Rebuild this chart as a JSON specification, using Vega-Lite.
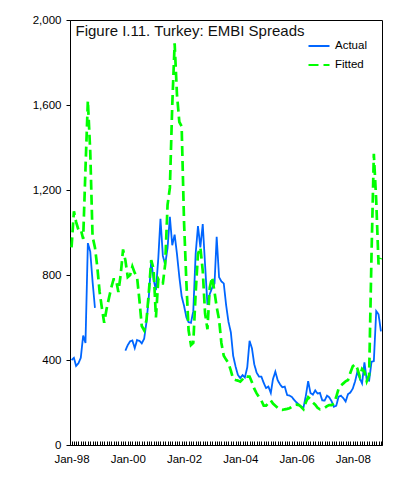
{
  "$schema": "https://vega.github.io/schema/vega-lite/v6.json",
  "width": 312,
  "height": 425,
  "autosize": "none",
  "padding": {"left": 70, "top": 20, "right": 23, "bottom": 32},
  "background": "white",
  "config": {
    "font": "Liberation Sans",
    "view": {"stroke": "black", "strokeWidth": 1}
  },
  "title": {
    "text": "Figure I.11. Turkey: EMBI Spreads",
    "anchor": "start",
    "frame": "group",
    "offset": -25,
    "dx": 5.5,
    "fontSize": 15,
    "fontWeight": "normal",
    "color": "#111111",
    "font": "Liberation Sans"
  },
  "data": {"values": [
    {"d":"1998-01-01","Actual":400,"Fitted":930},
    {"d":"1998-02-01","Actual":410,"Fitted":1100},
    {"d":"1998-03-01","Actual":372,"Fitted":1050},
    {"d":"1998-04-01","Actual":385,"Fitted":1012},
    {"d":"1998-05-01","Actual":410,"Fitted":1015},
    {"d":"1998-06-01","Actual":515,"Fitted":970},
    {"d":"1998-07-01","Actual":480,"Fitted":1300},
    {"d":"1998-08-01","Actual":950,"Fitted":1620},
    {"d":"1998-09-01","Actual":910,"Fitted":1380},
    {"d":"1998-10-01","Actual":770,"Fitted":980},
    {"d":"1998-11-01","Actual":645,"Fitted":930},
    {"d":"1998-12-01","Actual":null,"Fitted":840},
    {"d":"1999-01-01","Actual":null,"Fitted":720},
    {"d":"1999-02-01","Actual":null,"Fitted":640},
    {"d":"1999-03-01","Actual":null,"Fitted":575},
    {"d":"1999-04-01","Actual":null,"Fitted":640},
    {"d":"1999-05-01","Actual":null,"Fitted":690},
    {"d":"1999-06-01","Actual":null,"Fitted":740},
    {"d":"1999-07-01","Actual":null,"Fitted":780},
    {"d":"1999-08-01","Actual":null,"Fitted":780},
    {"d":"1999-09-01","Actual":null,"Fitted":720},
    {"d":"1999-10-01","Actual":null,"Fitted":800},
    {"d":"1999-11-01","Actual":null,"Fitted":920},
    {"d":"1999-12-01","Actual":444,"Fitted":870},
    {"d":"2000-01-01","Actual":470,"Fitted":790},
    {"d":"2000-02-01","Actual":488,"Fitted":800},
    {"d":"2000-03-01","Actual":492,"Fitted":840},
    {"d":"2000-04-01","Actual":456,"Fitted":810},
    {"d":"2000-05-01","Actual":494,"Fitted":790},
    {"d":"2000-06-01","Actual":490,"Fitted":680},
    {"d":"2000-07-01","Actual":478,"Fitted":560},
    {"d":"2000-08-01","Actual":500,"Fitted":540},
    {"d":"2000-09-01","Actual":580,"Fitted":590},
    {"d":"2000-10-01","Actual":700,"Fitted":720},
    {"d":"2000-11-01","Actual":866,"Fitted":870},
    {"d":"2000-12-01","Actual":780,"Fitted":830},
    {"d":"2001-01-01","Actual":729,"Fitted":600},
    {"d":"2001-02-01","Actual":880,"Fitted":780},
    {"d":"2001-03-01","Actual":1065,"Fitted":760},
    {"d":"2001-04-01","Actual":890,"Fitted":760},
    {"d":"2001-05-01","Actual":850,"Fitted":850},
    {"d":"2001-06-01","Actual":927,"Fitted":1130},
    {"d":"2001-07-01","Actual":1074,"Fitted":1210},
    {"d":"2001-08-01","Actual":940,"Fitted":1600},
    {"d":"2001-09-01","Actual":990,"Fitted":1890},
    {"d":"2001-10-01","Actual":900,"Fitted":1650},
    {"d":"2001-11-01","Actual":790,"Fitted":1520},
    {"d":"2001-12-01","Actual":700,"Fitted":1500},
    {"d":"2002-01-01","Actual":655,"Fitted":1050},
    {"d":"2002-02-01","Actual":600,"Fitted":760},
    {"d":"2002-03-01","Actual":578,"Fitted":540},
    {"d":"2002-04-01","Actual":575,"Fitted":470},
    {"d":"2002-05-01","Actual":630,"Fitted":480},
    {"d":"2002-06-01","Actual":900,"Fitted":715},
    {"d":"2002-07-01","Actual":1030,"Fitted":900},
    {"d":"2002-08-01","Actual":930,"Fitted":930},
    {"d":"2002-09-01","Actual":1040,"Fitted":820},
    {"d":"2002-10-01","Actual":850,"Fitted":620},
    {"d":"2002-11-01","Actual":660,"Fitted":545},
    {"d":"2002-12-01","Actual":710,"Fitted":740},
    {"d":"2003-01-01","Actual":740,"Fitted":790},
    {"d":"2003-02-01","Actual":760,"Fitted":720},
    {"d":"2003-03-01","Actual":980,"Fitted":650},
    {"d":"2003-04-01","Actual":790,"Fitted":590},
    {"d":"2003-05-01","Actual":770,"Fitted":480},
    {"d":"2003-06-01","Actual":760,"Fitted":420},
    {"d":"2003-07-01","Actual":660,"Fitted":402},
    {"d":"2003-08-01","Actual":580,"Fitted":385},
    {"d":"2003-09-01","Actual":530,"Fitted":350},
    {"d":"2003-10-01","Actual":420,"Fitted":310},
    {"d":"2003-11-01","Actual":370,"Fitted":306},
    {"d":"2003-12-01","Actual":330,"Fitted":303},
    {"d":"2004-01-01","Actual":315,"Fitted":298},
    {"d":"2004-02-01","Actual":329,"Fitted":310},
    {"d":"2004-03-01","Actual":318,"Fitted":325},
    {"d":"2004-04-01","Actual":365,"Fitted":322},
    {"d":"2004-05-01","Actual":490,"Fitted":322},
    {"d":"2004-06-01","Actual":455,"Fitted":295},
    {"d":"2004-07-01","Actual":380,"Fitted":265},
    {"d":"2004-08-01","Actual":340,"Fitted":243},
    {"d":"2004-09-01","Actual":322,"Fitted":225},
    {"d":"2004-10-01","Actual":322,"Fitted":210},
    {"d":"2004-11-01","Actual":292,"Fitted":185},
    {"d":"2004-12-01","Actual":268,"Fitted":185},
    {"d":"2005-01-01","Actual":275,"Fitted":198},
    {"d":"2005-02-01","Actual":245,"Fitted":210},
    {"d":"2005-03-01","Actual":310,"Fitted":195},
    {"d":"2005-04-01","Actual":345,"Fitted":185},
    {"d":"2005-05-01","Actual":305,"Fitted":175},
    {"d":"2005-06-01","Actual":285,"Fitted":166},
    {"d":"2005-07-01","Actual":272,"Fitted":165},
    {"d":"2005-08-01","Actual":275,"Fitted":168},
    {"d":"2005-09-01","Actual":235,"Fitted":170},
    {"d":"2005-10-01","Actual":233,"Fitted":173},
    {"d":"2005-11-01","Actual":226,"Fitted":180},
    {"d":"2005-12-01","Actual":212,"Fitted":188},
    {"d":"2006-01-01","Actual":200,"Fitted":190},
    {"d":"2006-02-01","Actual":190,"Fitted":188},
    {"d":"2006-03-01","Actual":180,"Fitted":180},
    {"d":"2006-04-01","Actual":176,"Fitted":168},
    {"d":"2006-05-01","Actual":230,"Fitted":200},
    {"d":"2006-06-01","Actual":300,"Fitted":225},
    {"d":"2006-07-01","Actual":245,"Fitted":215},
    {"d":"2006-08-01","Actual":237,"Fitted":200},
    {"d":"2006-09-01","Actual":257,"Fitted":190},
    {"d":"2006-10-01","Actual":242,"Fitted":175},
    {"d":"2006-11-01","Actual":245,"Fitted":168},
    {"d":"2006-12-01","Actual":210,"Fitted":172},
    {"d":"2007-01-01","Actual":209,"Fitted":175},
    {"d":"2007-02-01","Actual":232,"Fitted":183},
    {"d":"2007-03-01","Actual":225,"Fitted":188},
    {"d":"2007-04-01","Actual":206,"Fitted":188},
    {"d":"2007-05-01","Actual":180,"Fitted":195},
    {"d":"2007-06-01","Actual":185,"Fitted":227},
    {"d":"2007-07-01","Actual":227,"Fitted":265},
    {"d":"2007-08-01","Actual":232,"Fitted":280},
    {"d":"2007-09-01","Actual":220,"Fitted":290},
    {"d":"2007-10-01","Actual":205,"Fitted":300},
    {"d":"2007-11-01","Actual":240,"Fitted":306},
    {"d":"2007-12-01","Actual":247,"Fitted":340},
    {"d":"2008-01-01","Actual":265,"Fitted":370},
    {"d":"2008-02-01","Actual":300,"Fitted":380},
    {"d":"2008-03-01","Actual":345,"Fitted":360},
    {"d":"2008-04-01","Actual":314,"Fitted":322},
    {"d":"2008-05-01","Actual":290,"Fitted":358},
    {"d":"2008-06-01","Actual":389,"Fitted":345},
    {"d":"2008-07-01","Actual":306,"Fitted":300},
    {"d":"2008-08-01","Actual":303,"Fitted":330},
    {"d":"2008-09-01","Actual":392,"Fitted":900},
    {"d":"2008-10-01","Actual":395,"Fitted":1370},
    {"d":"2008-11-01","Actual":630,"Fitted":1150},
    {"d":"2008-12-01","Actual":615,"Fitted":850},
    {"d":"2009-01-01","Actual":535,"Fitted":880}
  ]},
  "encoding": {
    "x": {
      "field": "d",
      "type": "temporal",
      "scale": {
        "type": "utc",
        "domain": [
          {"year": 1997, "month": 12, "date": 12, "utc": true},
          {"year": 2009, "month": 1, "date": 15, "utc": true}
        ]
      },
      "axis": {
        "title": null,
        "grid": false,
        "tickCount": {"interval": "month", "step": 1},
        "labelExpr": "utcmonth(datum.value) == 0 && utcyear(datum.value) % 2 == 0 ? utcFormat(datum.value, '%b-%y') : ''",
        "labelOverlap": false,
        "labelFlush": false,
        "labelAngle": 0,
        "tickSize": -4,
        "tickColor": "black",
        "domainColor": "black",
        "labelColor": "black",
        "labelFontSize": 11.5,
        "labelPadding": 12
      }
    }
  },
  "layer": [
    {
      "mark": {"type": "line", "strokeWidth": 1.8, "invalid": "break-paths-show-domains"},
      "encoding": {
        "y": {
          "field": "Actual",
          "type": "quantitative",
          "scale": {"domain": [0, 2000], "nice": false},
          "axis": {
            "title": null,
            "grid": false,
            "values": [0, 400, 800, 1200, 1600, 2000],
            "format": ",.0f",
            "tickSize": 4,
            "tickColor": "black",
            "domainColor": "black",
            "labelColor": "black",
            "labelFontSize": 11.5,
            "labelPadding": 5
          }
        },
        "color": {
          "datum": "Actual",
          "type": "nominal",
          "scale": {"domain": ["Actual", "Fitted"], "range": ["#0066ff", "#00ff00"]},
          "legend": {
            "title": null,
            "orient": "none",
            "legendX": 237,
            "legendY": 14,
            "symbolType": "stroke",
            "symbolSize": 441,
            "symbolStrokeWidth": 2.2,
            "labelFontSize": 11.5,
            "labelColor": "black",
            "labelOffset": 4,
            "rowPadding": 1,
            "padding": 0
          }
        },
        "strokeDash": {
          "datum": "Actual",
          "type": "nominal",
          "scale": {"domain": ["Actual", "Fitted"], "range": [[1, 0], [10, 5]]}
        }
      }
    },
    {
      "mark": {"type": "line", "strokeWidth": 2.7, "invalid": "break-paths-show-domains"},
      "encoding": {
        "y": {"field": "Fitted", "type": "quantitative"},
        "color": {"datum": "Fitted", "type": "nominal"},
        "strokeDash": {"datum": "Fitted", "type": "nominal"}
      }
    }
  ]
}
